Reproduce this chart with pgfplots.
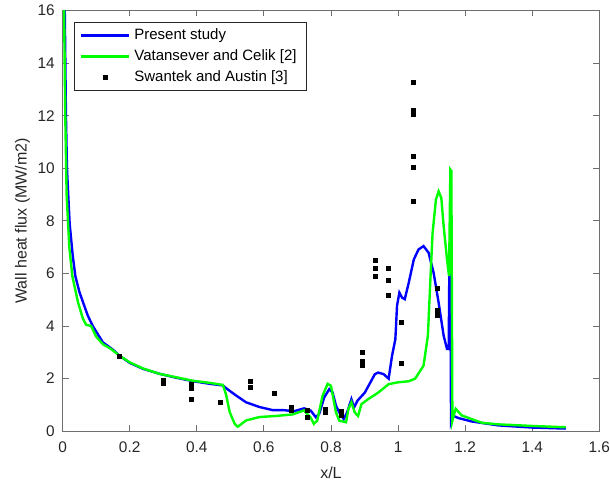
\documentclass[border=0pt]{standalone}
\usepackage{pgfplots}
\pgfplotsset{compat=1.18}
\usepackage{fontspec}
\setmainfont{Liberation Sans}
\definecolor{axgray}{RGB}{110,110,110}
\definecolor{txtgray}{RGB}{38,38,38}
\pgfplotsset{
    linelegend/.style={legend image code/.code={\draw[##1] (0pt,0pt) -- (24pt,0pt);}},
    marklegend/.style={legend image code/.code={\draw[##1] plot[mark=square*] coordinates {(12pt,0pt)};}},
}
\begin{document}
\fontsize{7.5}{9}\selectfont
\begin{tikzpicture}
\begin{axis}[
    scale only axis,
    width=268.5pt, height=210.5pt,
    xmin=0, xmax=1.6, ymin=0, ymax=16,
    xtick={0,0.2,...,1.6}, ytick={0,2,...,16},
    xticklabels={0,0.2,0.4,0.6,0.8,1,1.2,1.4,1.6},
    tick align=inside,
    tick pos=both,
    major tick length=3pt,
    axis line style={axgray, line width=0.4pt},
    every tick/.style={axgray, line width=0.4pt},
    tick label style={font=\fontsize{7.7}{9}\selectfont, text=txtgray},
    xticklabel style={inner xsep=0pt, yshift=-2.5pt},
    yticklabel style={xshift=-1.2pt},
    /pgf/number format/assume math mode=true,
    xlabel={x/L}, ylabel={Wall heat flux (MW/m2)},
    label style={font=\fontsize{8}{9.5}\selectfont, text=txtgray},
    xlabel style={yshift=-2pt},
    ylabel style={yshift=-1.3pt},
    legend style={at={(0.0205,0.9715)}, anchor=north west, draw=txtgray,
        line width=0.4pt, font=\fontsize{7.5}{9}\selectfont, text=black,
        row sep=0pt, inner xsep=3pt, inner ysep=1pt},
    legend cell align=left,
]
\addplot[blue, line width=1.2pt, linelegend]
coordinates {
(0.006,16.5) (0.01,12) (0.013,10) (0.021,7.9) (0.03,6.7) (0.038,5.9) (0.05,5.3)
(0.061,4.9) (0.075,4.4) (0.09,4.0) (0.12,3.38) (0.15,3.1) (0.17,2.87) (0.2,2.6)
(0.24,2.37) (0.29,2.18) (0.34,2.03) (0.39,1.9) (0.44,1.8) (0.478,1.74) (0.488,1.63)
(0.517,1.36) (0.547,1.1) (0.587,0.92) (0.627,0.8) (0.66,0.8) (0.69,0.76) (0.72,0.87)
(0.74,0.78) (0.755,0.53) (0.765,0.66) (0.78,1.29) (0.795,1.6) (0.805,1.47) (0.815,0.97)
(0.825,0.71) (0.838,0.46) (0.848,0.71) (0.861,1.22) (0.869,0.9) (0.879,1.16) (0.901,1.47)
(0.931,2.17) (0.941,2.23) (0.957,2.17) (0.972,2.0) (0.982,2.86) (0.992,3.5) (0.997,4.77)
(1.004,5.27) (1.012,5.08) (1.02,5.02) (1.032,5.65) (1.047,6.53) (1.061,6.91) (1.076,7.04)
(1.091,6.79) (1.106,6.03) (1.121,4.89) (1.136,3.63) (1.146,3.13) (1.151,3.13) (1.153,6.28)
(1.156,5.65) (1.158,0.4) (1.162,0.6) (1.18,0.5) (1.22,0.37) (1.3,0.22) (1.4,0.14) (1.5,0.1)
};
\addlegendentry{Present study}
\addplot[green, line width=1.2pt, linelegend]
coordinates {
(0.004,16.5) (0.008,12) (0.012,9) (0.02,7) (0.029,5.9) (0.046,4.9) (0.06,4.3) (0.07,4.05)
(0.085,4.0) (0.1,3.6) (0.12,3.31) (0.145,3.12) (0.17,2.87) (0.2,2.62) (0.239,2.39)
(0.289,2.18) (0.339,2.05) (0.388,1.92) (0.438,1.84) (0.478,1.76) (0.488,1.36) (0.498,0.73)
(0.513,0.28) (0.522,0.17) (0.547,0.41) (0.587,0.54) (0.637,0.58) (0.686,0.64) (0.719,0.79)
(0.739,0.53) (0.749,0.28) (0.759,0.4) (0.775,1.35) (0.79,1.8) (0.8,1.73) (0.815,0.71)
(0.825,0.4) (0.845,0.34) (0.852,0.84) (0.861,1.1) (0.871,0.71) (0.881,0.58) (0.891,1.03)
(0.911,1.22) (0.941,1.47) (0.972,1.79) (1.0,1.86) (1.032,1.9) (1.051,2.0) (1.076,2.49)
(1.089,3.63) (1.096,5.65) (1.103,7.54) (1.113,8.81) (1.121,9.12) (1.129,8.87) (1.136,7.8)
(1.146,6.53) (1.152,5.9) (1.156,9.95) (1.159,9.9) (1.162,0.4) (1.166,0.6) (1.172,0.85)
(1.19,0.6) (1.25,0.32) (1.3,0.26) (1.4,0.2) (1.5,0.15)
};
\addlegendentry{Vatansever and Celik [2]}
\addplot[only marks, mark=square*, mark size=1pt, black, marklegend]
coordinates {
(0.17,2.84) (0.30,1.8) (0.30,1.95) (0.384,1.62) (0.384,1.78) (0.384,1.22) (0.471,1.09)
(0.559,1.91) (0.559,1.66) (0.632,1.42) (0.681,0.78) (0.681,0.9) (0.729,0.81) (0.729,0.52)
(0.782,0.7) (0.782,0.84) (0.83,0.77) (0.83,0.61) (0.895,3.0) (0.895,2.5) (0.895,2.66)
(0.932,6.48) (0.932,6.21) (0.932,5.88) (0.97,6.21) (0.97,5.73) (0.97,5.16) (1.01,4.14)
(1.01,2.56) (1.046,13.28) (1.046,12.05) (1.046,12.2) (1.046,10.46) (1.046,10.05)
(1.046,8.75) (1.116,5.44) (1.116,4.4) (1.116,4.58)
};
\addlegendentry{Swantek and Austin [3]}
\end{axis}
\path ([xshift=-5pt]current bounding box.west);
\end{tikzpicture}
\end{document}
